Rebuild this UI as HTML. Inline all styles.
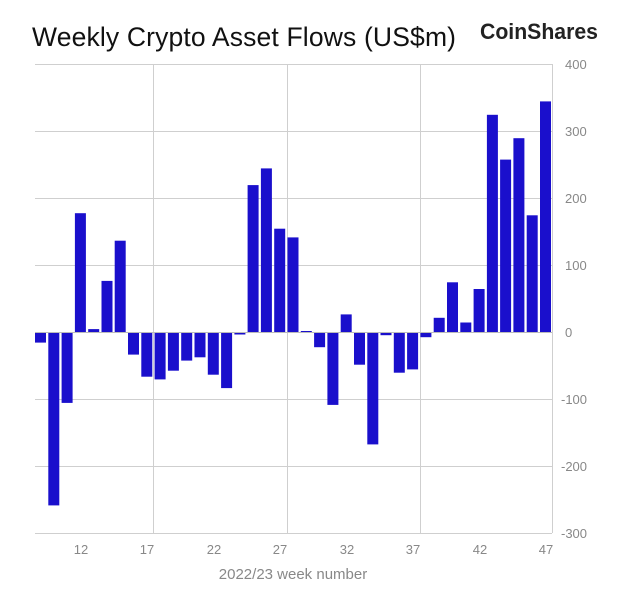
<!DOCTYPE html>
<html><head><meta charset="utf-8"><style>
body{margin:0;background:#fff;}
</style></head><body>
<svg width="623" height="588" xmlns="http://www.w3.org/2000/svg" font-family="Liberation Sans, sans-serif">
<rect width="623" height="588" fill="#fff"/>
<text x="32" y="46" font-size="26.5" fill="#111" textLength="424">Weekly Crypto Asset Flows (US$m)</text>
<text x="480" y="39" font-size="22" font-weight="bold" fill="#222" textLength="118" lengthAdjust="spacingAndGlyphs">CoinShares</text>
<g stroke="#cfcfcf" stroke-width="1">
<line x1="35" x2="552" y1="64.5" y2="64.5"/><line x1="35" x2="552" y1="131.5" y2="131.5"/>
<line x1="35" x2="552" y1="198.5" y2="198.5"/><line x1="35" x2="552" y1="265.5" y2="265.5"/>
<line x1="35" x2="552" y1="399.5" y2="399.5"/><line x1="35" x2="552" y1="466.5" y2="466.5"/>
<line x1="35" x2="552" y1="533.5" y2="533.5"/>
<line x1="153.5" x2="153.5" y1="64" y2="533"/><line x1="287.5" x2="287.5" y1="64" y2="533"/>
<line x1="420.5" x2="420.5" y1="64" y2="533"/><line x1="552.5" x2="552.5" y1="64" y2="533"/>
</g>
<g fill="#1a0fcc">
<rect x="35.0" y="332.5" width="11" height="10.1"/>
<rect x="48.3" y="332.5" width="11" height="172.9"/>
<rect x="61.6" y="332.5" width="11" height="70.4"/>
<rect x="74.9" y="213.2" width="11" height="119.3"/>
<rect x="88.2" y="329.1" width="11" height="3.4"/>
<rect x="101.5" y="280.9" width="11" height="51.6"/>
<rect x="114.7" y="240.7" width="11" height="91.8"/>
<rect x="128.0" y="332.5" width="11" height="22.1"/>
<rect x="141.3" y="332.5" width="11" height="44.2"/>
<rect x="154.6" y="332.5" width="11" height="46.9"/>
<rect x="167.9" y="332.5" width="11" height="38.2"/>
<rect x="181.2" y="332.5" width="11" height="28.1"/>
<rect x="194.5" y="332.5" width="11" height="24.8"/>
<rect x="207.8" y="332.5" width="11" height="42.2"/>
<rect x="221.1" y="332.5" width="11" height="55.6"/>
<rect x="234.4" y="332.5" width="11" height="2.0"/>
<rect x="247.6" y="185.1" width="11" height="147.4"/>
<rect x="260.9" y="168.4" width="11" height="164.1"/>
<rect x="274.2" y="228.7" width="11" height="103.8"/>
<rect x="287.5" y="237.4" width="11" height="95.1"/>
<rect x="300.8" y="331.0" width="11" height="1.5"/>
<rect x="314.1" y="332.5" width="11" height="14.7"/>
<rect x="327.4" y="332.5" width="11" height="72.4"/>
<rect x="340.7" y="314.4" width="11" height="18.1"/>
<rect x="354.0" y="332.5" width="11" height="32.2"/>
<rect x="367.3" y="332.5" width="11" height="111.9"/>
<rect x="380.5" y="332.5" width="11" height="2.7"/>
<rect x="393.8" y="332.5" width="11" height="40.2"/>
<rect x="407.1" y="332.5" width="11" height="36.9"/>
<rect x="420.4" y="332.5" width="11" height="4.7"/>
<rect x="433.7" y="317.8" width="11" height="14.7"/>
<rect x="447.0" y="282.3" width="11" height="50.2"/>
<rect x="460.3" y="322.5" width="11" height="10.0"/>
<rect x="473.6" y="289.0" width="11" height="43.5"/>
<rect x="486.9" y="114.8" width="11" height="217.7"/>
<rect x="500.1" y="159.6" width="11" height="172.9"/>
<rect x="513.4" y="138.2" width="11" height="194.3"/>
<rect x="526.7" y="215.3" width="11" height="117.3"/>
<rect x="540.0" y="101.4" width="11" height="231.1"/>
</g>
<line x1="35" x2="552" y1="332.5" y2="332.5" stroke="#bbb"/>
<g font-size="13" fill="#888">
<text x="565" y="69">400</text><text x="565" y="136">300</text><text x="565" y="203">200</text>
<text x="565" y="270">100</text><text x="565" y="337">0</text><text x="561" y="404">-100</text>
<text x="561" y="471">-200</text><text x="561" y="538">-300</text>
</g>
<g font-size="13" fill="#888" text-anchor="middle">
<text x="81" y="554">12</text><text x="147" y="554">17</text><text x="214" y="554">22</text>
<text x="280" y="554">27</text><text x="347" y="554">32</text><text x="413" y="554">37</text>
<text x="480" y="554">42</text><text x="546" y="554">47</text>
<text x="293" y="579" font-size="15">2022/23 week number</text>
</g>
</svg>
</body></html>
